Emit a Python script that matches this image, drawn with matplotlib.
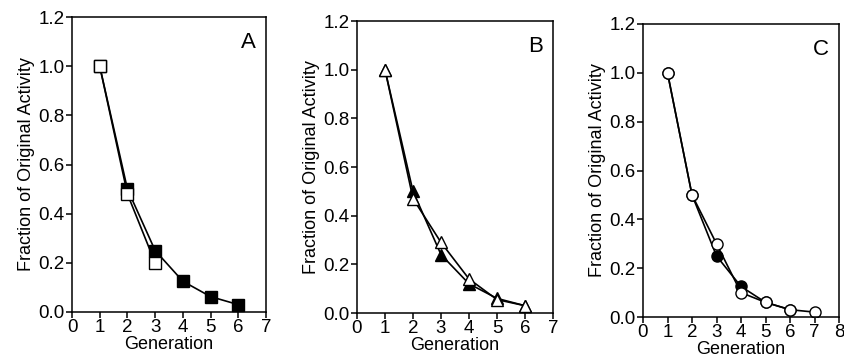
import matplotlib.pyplot as plt

plt.rcParams['font.family'] = ['Liberation Sans', 'DejaVu Sans']

gen_a_filled = [1, 2, 3, 4, 5, 6]
a_filled = [1.0, 0.50, 0.25, 0.125, 0.0625, 0.03]
gen_a_open = [1, 2, 3]
a_open = [1.0, 0.48, 0.20]

gen_b = [1, 2, 3, 4, 5, 6]
b_filled = [1.0, 0.50, 0.24, 0.12, 0.06, 0.03]
b_open = [1.0, 0.47, 0.29, 0.14, 0.055, 0.03]

gen_c_filled = [1, 2, 3, 4, 5, 6]
c_filled = [1.0, 0.50, 0.25, 0.125, 0.06, 0.03]
gen_c_open = [1, 2, 3, 4, 5, 6, 7]
c_open = [1.0, 0.50, 0.30, 0.10, 0.06, 0.03, 0.02]

yticks = [0.0, 0.2, 0.4, 0.6, 0.8, 1.0, 1.2]

fig = plt.figure(figsize=(8.44, 3.6), dpi=100)
W, H = 844, 360

def make_axes(x0, x1, y0, y1):
    return fig.add_axes([x0 / W, 1 - y1 / H, (x1 - x0) / W, (y1 - y0) / H])

ax_a = make_axes(72, 266, 17, 312)
ax_b = make_axes(357, 553, 21, 313)
ax_c = make_axes(643, 839, 24, 317)

ms = 8
ax_a.plot(gen_a_filled, a_filled, '-s', color='black', mfc='black', mec='black', ms=ms, lw=1.2)
ax_a.plot(gen_a_open, a_open, '-s', color='black', mfc='white', mec='black', ms=ms, lw=1.2)

ax_b.plot(gen_b, b_filled, '-^', color='black', mfc='black', mec='black', ms=ms + 1, lw=1.2)
ax_b.plot(gen_b, b_open, '-^', color='black', mfc='white', mec='black', ms=ms + 1, lw=1.2)

ax_c.plot(gen_c_filled, c_filled, '-o', color='black', mfc='black', mec='black', ms=ms, lw=1.2)
ax_c.plot(gen_c_open, c_open, '-o', color='black', mfc='white', mec='black', ms=ms, lw=1.2)

for ax, letter, xmax in [(ax_a, 'A', 7), (ax_b, 'B', 7), (ax_c, 'C', 8)]:
    ax.set_xlim(0, xmax)
    ax.set_ylim(0, 1.2)
    ax.set_xticks(range(0, xmax + 1))
    ax.set_yticks(yticks)
    ax.set_yticklabels([f'{v:.1f}' for v in yticks])
    ax.tick_params(direction='out', length=4, width=1.1, labelsize=13.5, pad=1.5)
    ax.tick_params(axis='x', pad=1)
    for s in ax.spines.values():
        s.set_linewidth(1.1)
    ax.set_xlabel('Generation', fontsize=13, labelpad=0)
    ax.set_ylabel('Fraction of Original Activity', fontsize=13, labelpad=2)
    ax.text(0.95, 0.95, letter, transform=ax.transAxes, ha='right', va='top', fontsize=16)

fig.savefig('out.png', dpi=100)
